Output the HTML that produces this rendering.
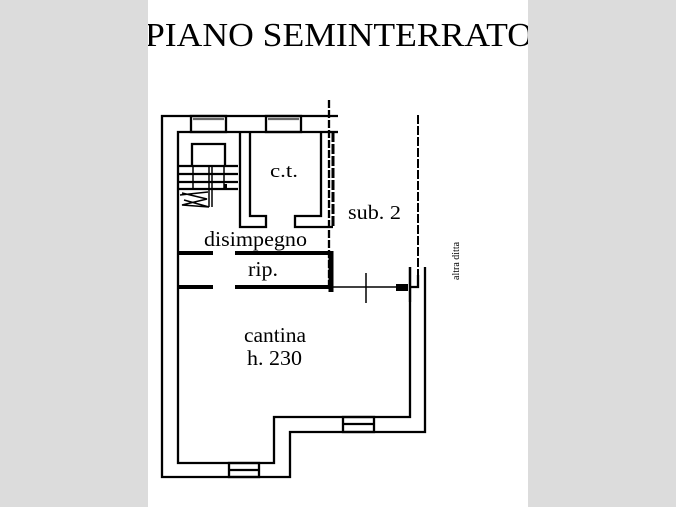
<!DOCTYPE html>
<html><head><meta charset="utf-8"><style>
html,body{margin:0;padding:0;background:#dcdcdc;}
svg{display:block;}
</style></head><body>
<svg width="676" height="507" viewBox="0 0 676 507" xmlns="http://www.w3.org/2000/svg">
<rect x="0" y="0" width="676" height="507" fill="#dcdcdc"/>
<rect x="148" y="0" width="380" height="507" fill="#fff"/>
<defs><clipPath id="c"><rect x="148" y="0" width="380" height="507"/></clipPath></defs>
<g clip-path="url(#c)">
<text x="145" y="46" font-family="Liberation Serif, serif" font-size="34" textLength="388" lengthAdjust="spacingAndGlyphs" fill="#000">PIANO SEMINTERRATO</text>
</g>
<g stroke="#000" stroke-width="2.3" fill="none">
<polyline points="338,116 162,116 162,477 290,477 290,432 425,432 425,267"/>
<polyline points="329,132 178,132 178,463 274,463 274,417 410,417 410,267"/>
<rect x="191" y="116" width="35" height="16" />
<line x1="193" y1="119" x2="224" y2="119" stroke="#666"/>
<rect x="266" y="116" width="35" height="16"/>
<line x1="268" y1="119" x2="299" y2="119" stroke="#666"/>
<rect x="229" y="463" width="30" height="14"/>
<line x1="229" y1="470" x2="259" y2="470"/>
<rect x="343" y="417" width="31" height="15"/>
<line x1="343" y1="424" x2="374" y2="424"/>
<polyline points="240,132 240,227 266,227 266,216 250,216 250,132"/>
<polyline points="321,132 321,216 295,216 295,227 333,227"/>
<line x1="329" y1="132" x2="338" y2="132"/>
<polyline points="192,166 192,144 225,144 225,166"/>
<line x1="178" y1="166" x2="238" y2="166"/>
<line x1="178" y1="174" x2="238" y2="174"/>
<line x1="178" y1="182" x2="238" y2="182"/>
<line x1="178" y1="189" x2="238" y2="189"/>
<line x1="193" y1="166" x2="193" y2="189" stroke-width="1.5"/>
<line x1="209" y1="166" x2="209" y2="207" stroke-width="1.5"/>
<line x1="212" y1="166" x2="212" y2="207" stroke-width="1.5"/>
<line x1="224" y1="166" x2="224" y2="189" stroke-width="1.5"/>
<polyline points="182,193 207,199 182,205 209,207 184,200" stroke-width="1.5"/>
<line x1="180" y1="195" x2="208" y2="192" stroke-width="1.5"/>
<rect x="224" y="184" width="3" height="5" fill="#000" stroke="none"/>
<line x1="329" y1="100" x2="329" y2="290" stroke-dasharray="8,2"/>
<line x1="333" y1="132" x2="333" y2="227" stroke-width="3" stroke-dasharray="10,2"/>
<line x1="418" y1="115" x2="418" y2="275" stroke-width="2" stroke-dasharray="9,2"/>
<line x1="178" y1="253" x2="213" y2="253" stroke-width="4"/>
<line x1="235" y1="253" x2="333" y2="253" stroke-width="4"/>
<line x1="178" y1="287" x2="213" y2="287" stroke-width="4"/>
<line x1="235" y1="287" x2="333" y2="287" stroke-width="4"/>
<line x1="331" y1="251" x2="331" y2="292" stroke-width="5"/>
<line x1="333" y1="287" x2="400" y2="287" stroke-width="1.5"/>
<line x1="366" y1="273" x2="366" y2="303" stroke-width="1.5"/>
<rect x="396" y="284" width="12" height="7" fill="#000" stroke="none"/>
<line x1="410" y1="267" x2="410" y2="302"/>
<polyline points="418,275 418,287 410,287"/>
</g>
<g font-family="Liberation Serif, serif" fill="#000">
<text x="270" y="177" font-size="19" textLength="28" lengthAdjust="spacingAndGlyphs">c.t.</text>
<text x="348" y="219" font-size="20" textLength="53" lengthAdjust="spacingAndGlyphs">sub. 2</text>
<text x="204" y="246" font-size="21" textLength="103" lengthAdjust="spacingAndGlyphs">disimpegno</text>
<text x="248" y="276" font-size="21" textLength="30" lengthAdjust="spacingAndGlyphs">rip.</text>
<text x="244" y="342" font-size="21" textLength="62" lengthAdjust="spacingAndGlyphs">cantina</text>
<text x="247" y="365" font-size="21" textLength="55" lengthAdjust="spacingAndGlyphs">h. 230</text>
<text transform="translate(459,280) rotate(-90)" font-size="10">altra ditta</text>
</g>
</svg>
</body></html>
